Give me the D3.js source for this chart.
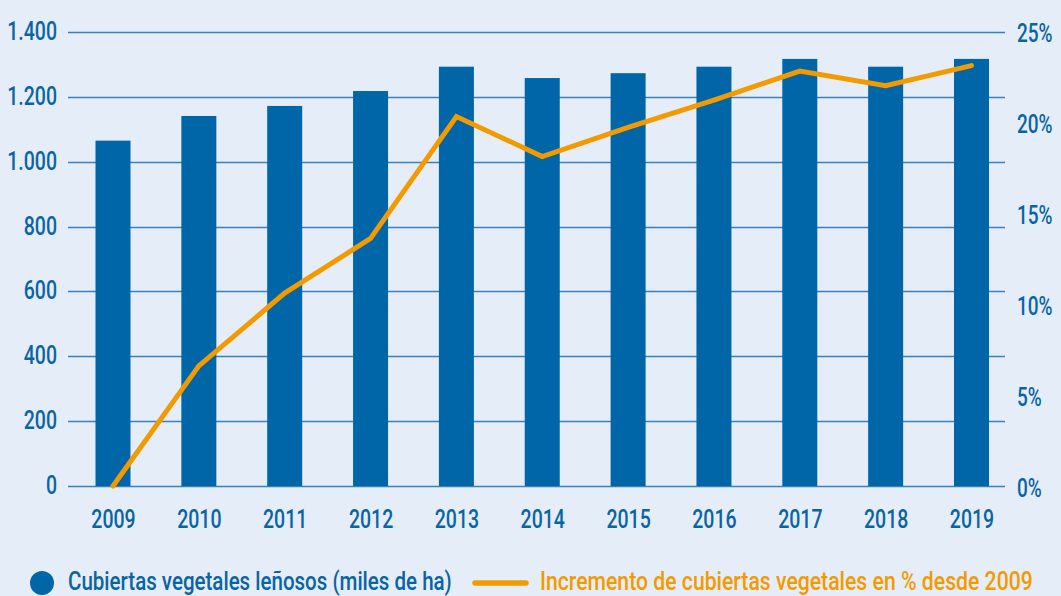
<!DOCTYPE html>
<html>
<head>
<meta charset="utf-8">
<script src="https://cdn.jsdelivr.net/npm/d3@7"></script>
<style>
  html, body { margin: 0; padding: 0; background: #e5eef8; }
  svg { display: block; }
  text { font-family: Roboto, "DejaVu Sans Condensed", sans-serif; font-weight: 500; }
</style>
</head>
<body>
<svg id="chart" width="1061" height="596"></svg>
<script>
// ---- data ----
const years = ["2009","2010","2011","2012","2013","2014","2015","2016","2017","2018","2019"];
const coverValues = [1065, 1141, 1172, 1218, 1293, 1258, 1273, 1293, 1317, 1293, 1317];
const increasePct = [0, 6.6, 10.6, 13.6, 20.3, 18.1, 19.7, 21.2, 22.8, 22.0, 23.1];
const leftTicks = [0, 200, 400, 600, 800, 1000, 1200, 1400];
const rightTicks = [0, 5, 10, 15, 20, 25];
const legendLabels = ["Cubiertas vegetales leñosos (miles de ha)", "Incremento de cubiertas vegetales en % desde 2009"];

// ---- style ----
const W = 1061, H = 596;
const blue = "#0066a8", orange = "#f39a00", grid = "#3a80bb", textBlue = "#0a64a4";
const svg = d3.select("#chart");
svg.append("rect").attr("width", W).attr("height", H).attr("fill", "#e5eef8");

const x = d3.scalePoint().domain(years).range([113, 971.5]);
const barW = 35;
const yL = d3.scaleLinear().domain([0, 1400]).range([486, 32]);
const yR = d3.scaleLinear().domain([0, 25]).range([486, 31]);

function condense(k) {
  return sel => sel.each(function () {
    const w = this.getComputedTextLength();
    d3.select(this).attr("textLength", w * k).attr("lengthAdjust", "spacingAndGlyphs");
  });
}

// gridlines
svg.append("g").selectAll("line").data(leftTicks).join("line")
  .attr("x1", 68).attr("x2", 1005)
  .attr("y1", d => Math.round(yL(d)) + 0.5).attr("y2", d => Math.round(yL(d)) + 0.5)
  .attr("stroke", grid).attr("stroke-width", 1.3);

// left axis labels
const leftAxis = d3.axisLeft(yL).tickValues(leftTicks).tickSize(0).tickPadding(0)
  .tickFormat(d => d3.format(",")(d).replace(/,/g, "."));
const gL = svg.append("g").attr("transform", "translate(57,-1.5)").call(leftAxis);
gL.select(".domain").remove();
gL.selectAll("text").attr("font-size", 25).attr("fill", textBlue).attr("dy", "0.36em")
  .attr("font-family", null).call(condense(0.78));

// right axis labels (horizontally condensed by a transform)
const rightAxis = d3.axisRight(yR).tickValues(rightTicks).tickSize(0).tickPadding(0)
  .tickFormat(d => d + "%");
const gR = svg.append("g").attr("transform", "translate(1017,1.5)").call(rightAxis);
gR.select(".domain").remove();
gR.selectAll("text").attr("font-size", 25).attr("fill", textBlue).attr("dy", "0.36em")
  .attr("font-family", null).attr("x", 0).attr("transform", "scale(0.76,1)");

// bars
svg.append("g").selectAll("rect").data(years).join("rect")
  .attr("x", (d) => x(d) - barW / 2)
  .attr("width", barW)
  .attr("y", (d, i) => yL(coverValues[i]))
  .attr("height", (d, i) => yL(0) - yL(coverValues[i]))
  .attr("fill", blue);

// x axis labels
const xAxis = d3.axisBottom(x).tickSize(0).tickPadding(0);
const gX = svg.append("g").attr("transform", "translate(0,510)").call(xAxis);
gX.select(".domain").remove();
gX.selectAll("text").attr("font-size", 25).attr("fill", textBlue).attr("dy", "0.71em")
  .attr("font-family", null).call(condense(0.78));

// line
const line = d3.line().x((d, i) => x(years[i])).y(d => yR(d));
svg.append("path").datum(increasePct).attr("d", line)
  .attr("fill", "none").attr("stroke", orange).attr("stroke-width", 5)
  .attr("stroke-linejoin", "miter").attr("stroke-linecap", "round");

// legend (text condensed to target width by a scale transform)
function fitText(g, x0, y0, width, label, color) {
  const t = g.append("text").attr("font-size", 25).attr("fill", color).text(label);
  const w = t.node().getComputedTextLength();
  t.attr("transform", `translate(${x0},${y0}) scale(${width / w},1)`);
}
const lg = svg.append("g");
lg.append("circle").attr("cx", 42).attr("cy", 583).attr("r", 12).attr("fill", blue);
fitText(lg, 68, 590, 384, legendLabels[0], textBlue);
lg.append("line").attr("x1", 475).attr("x2", 526).attr("y1", 583).attr("y2", 583)
  .attr("stroke", orange).attr("stroke-width", 5.5).attr("stroke-linecap", "round");
fitText(lg, 540, 590, 493, legendLabels[1], orange);
</script>
</body>
</html>
